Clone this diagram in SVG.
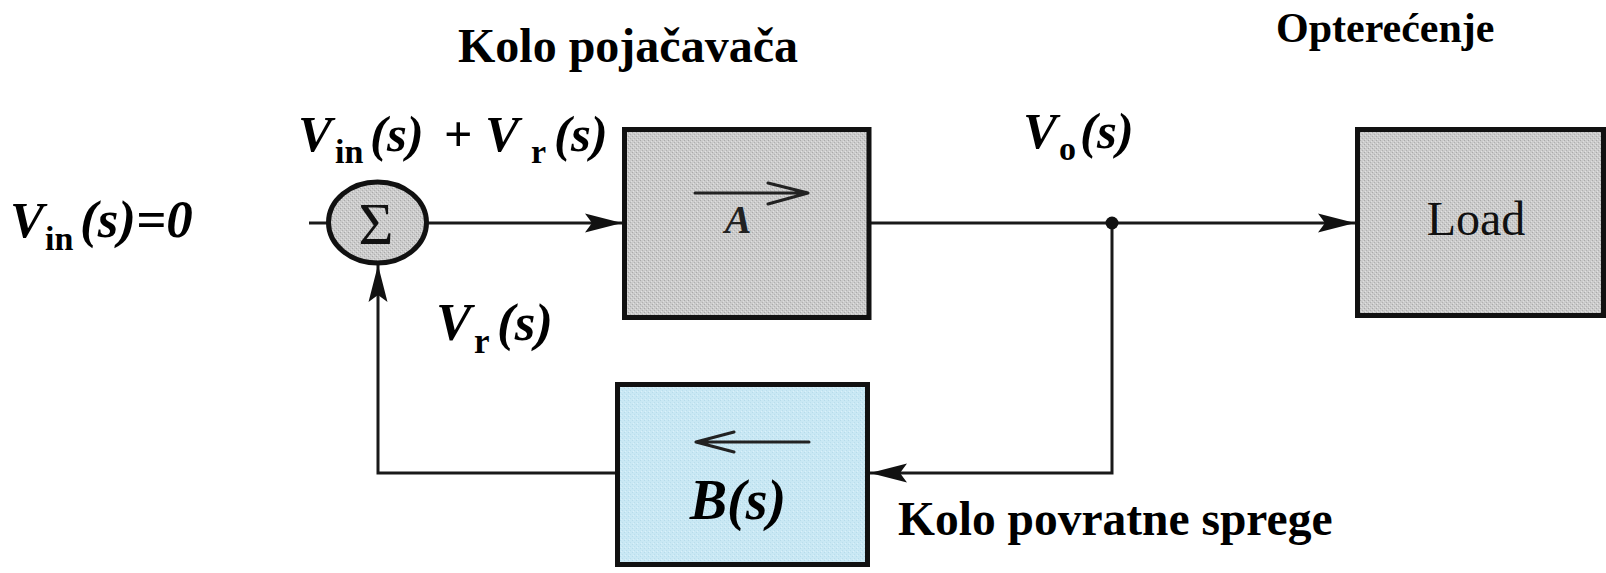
<svg xmlns="http://www.w3.org/2000/svg" width="1606" height="573" viewBox="0 0 1606 573">
  <style>
    .title { font-family: "Liberation Serif", "Times New Roman", serif; font-weight: bold; fill: #000; }
    .math { font-family: "Liberation Serif", "Times New Roman", serif; font-weight: bold; font-style: italic; fill: #000; }
    .sub { font-family: "Liberation Serif", "Times New Roman", serif; font-weight: bold; fill: #000; }
    .block { stroke: #111; stroke-width: 5; }
    .gray { fill: url(#stipple); }
    .blue { fill: url(#stipple-blue); }
    .wire { fill: none; stroke: #1a1a1a; stroke-width: 3; }
    .inner { fill: none; stroke: #222; stroke-width: 3; stroke-linecap: round; stroke-linejoin: round; }
  </style>
  <defs>
    <marker id="arrow" viewBox="0 -10 38 20" markerWidth="38" markerHeight="20" markerUnits="userSpaceOnUse" refX="37" refY="0" orient="auto">
      <path d="M0,-9.5 L37,0 L0,9.5 L7,0 Z" fill="#111"/>
    </marker>
    <!-- halftone fill for the gray blocks -->
    <pattern id="stipple" width="4" height="4" patternUnits="userSpaceOnUse">
      <rect width="4" height="4" fill="#cbcbcb"/>
      <rect x="0" y="0" width="1" height="1" fill="#a9a9a9"/>
      <rect x="2" y="2" width="1" height="1" fill="#b0b0b0"/>
      <rect x="1" y="3" width="1" height="1" fill="#e2e2e2"/>
      <rect x="3" y="1" width="1" height="1" fill="#dedede"/>
    </pattern>
    <pattern id="stipple-blue" width="4" height="4" patternUnits="userSpaceOnUse">
      <rect width="4" height="4" fill="#c9e8f4"/>
      <rect x="0" y="0" width="1" height="1" fill="#b6dbea"/>
      <rect x="2" y="2" width="1" height="1" fill="#badeec"/>
      <rect x="1" y="3" width="1" height="1" fill="#dbf1fa"/>
    </pattern>
  </defs>

  <rect width="1606" height="573" fill="#fff"/>

  <!-- headings -->
  <text class="title" x="458" y="62" font-size="48">Kolo pojačavača</text>
  <text class="title" x="1276" y="42" font-size="42">Opterećenje</text>
  <text class="title" x="898" y="535" font-size="47.5">Kolo povratne sprege</text>

  <!-- signal labels -->
  <g id="label-input">
    <text class="math" x="10" y="237" font-size="51">V</text>
    <text class="sub" x="45" y="250" font-size="34">in</text>
    <text class="math" x="80" y="237" font-size="53">(s)=0</text>
  </g>
  <g id="label-sum">
    <text class="math" x="298" y="151" font-size="51">V</text>
    <text class="sub" x="335" y="163" font-size="34">in</text>
    <text class="math" x="370" y="151" font-size="51">(s)</text>
    <text class="sub" x="444" y="151" font-size="50">+</text>
    <text class="math" x="485" y="151" font-size="51">V</text>
    <text class="sub" x="531" y="163" font-size="34">r</text>
    <text class="math" x="554" y="151" font-size="51">(s)</text>
  </g>
  <g id="label-feedback">
    <text class="math" x="436" y="340" font-size="53">V</text>
    <text class="sub" x="474" y="353" font-size="35">r</text>
    <text class="math" x="497" y="340" font-size="53">(s)</text>
  </g>
  <g id="label-output">
    <text class="math" x="1023" y="148" font-size="51">V</text>
    <text class="sub" x="1059" y="160" font-size="34">o</text>
    <text class="math" x="1080" y="148" font-size="51">(s)</text>
  </g>

  <!-- connectors -->
  <g id="connectors">
    <line class="wire" x1="309" y1="223" x2="330" y2="223"/>
    <line class="wire" x1="427" y1="223" x2="622" y2="223" marker-end="url(#arrow)"/>
    <line class="wire" x1="869" y1="223" x2="1355" y2="223" marker-end="url(#arrow)"/>
    <polyline class="wire" points="1112,223 1112,473 870,473" marker-end="url(#arrow)"/>
    <polyline class="wire" points="617,473 378,473 378,265" marker-end="url(#arrow)"/>
    <circle cx="1112" cy="223" r="6.5" fill="#111"/>
  </g>

  <!-- summing junction -->
  <g id="sum">
    <ellipse class="block gray" cx="377.5" cy="222.5" rx="49" ry="40.5"/>
    <text x="376" y="244" font-family="Liberation Serif, Times New Roman, serif" font-size="60" text-anchor="middle" fill="#111">Σ</text>
  </g>

  <!-- amplifier block A -->
  <g id="amplifier">
    <rect class="block gray" x="624.5" y="129.5" width="244.5" height="188"/>
    <path class="inner" d="M695,193 L808,193 M768,183 L808,193 L768,204"/>
    <text x="738" y="233" font-family="Liberation Serif, Times New Roman, serif" font-style="italic" font-weight="bold" font-size="40" text-anchor="middle" fill="#222">A</text>
  </g>

  <!-- load block -->
  <g id="load">
    <rect class="block gray" x="1357.5" y="129.5" width="246" height="186"/>
    <text x="1476" y="235" font-family="Liberation Serif, Times New Roman, serif" font-size="48" text-anchor="middle" fill="#111">Load</text>
  </g>

  <!-- feedback block B -->
  <g id="feedback">
    <rect class="block blue" x="617.5" y="384.5" width="250" height="180"/>
    <path class="inner" d="M809,442 L696,442 M734,432 L696,442 L734,452"/>
    <text class="math" x="738" y="519" font-size="56" text-anchor="middle">B(s)</text>
  </g>
</svg>
